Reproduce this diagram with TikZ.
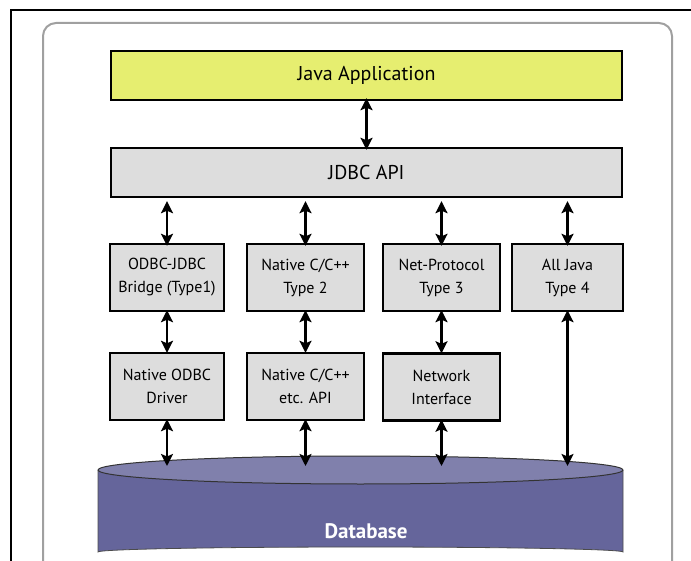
\documentclass[tikz,border=0pt]{standalone}
\usepackage{fontspec}
\setmainfont{PT Sans}
\usetikzlibrary{positioning}
\usetikzlibrary{arrows.meta}
\definecolor{appyellow}{RGB}{230,238,112}
\definecolor{boxgray}{RGB}{221,221,221}
\definecolor{dbbody}{RGB}{101,101,155}
\definecolor{dbtop}{RGB}{128,128,172}
\definecolor{framegray}{RGB}{160,160,160}
\tikzset{
  layer/.style={draw=black,line width=2.4pt,minimum width=511pt,minimum height=49pt,inner sep=0pt,font=\fontsize{20}{22}\selectfont},
  driver/.style={draw=black,line width=2.4pt,fill=boxgray,minimum height=67pt,inner sep=0pt,align=center,font=\fontsize{16}{23}\selectfont},
  link/.style={{Stealth[length=12pt,width=12pt,inset=2.5pt]}-{Stealth[length=12pt,width=12pt,inset=2.5pt]},line width=2.8pt}
}
\begin{document}
\begin{tikzpicture}[x=1pt,y=-1pt,line cap=butt,line join=miter]
\useasboundingbox (0,0) rectangle (691,561);
\draw[line width=2pt] (11,562) -- (11,10.5) -- (692,10.5);
\draw[framegray,line width=2pt,rounded corners=13pt] (43,562) -- (43,23) -- (672,23) -- (672,562);
\node[layer,fill=appyellow] (java) at (366.5,75.5) {Java Application};
\node[layer,fill=boxgray] (jdbc) at (366.5,172.5) {JDBC API};
\node[driver,minimum width=114pt] (type1) at (167,277.5) {ODBC-JDBC\\Bridge (Type1)};
\node[driver,minimum width=117pt] (type2) at (305.5,277.5) {Native C/C++\\Type 2};
\node[driver,minimum width=117pt] (type3) at (441.5,277.5) {Net-Protocol\\Type 3};
\node[driver,minimum width=111pt] (type4) at (567.5,277.5) {All Java\\Type 4};
\node[driver,minimum width=114pt] (odbc) at (167,386.5) {Native ODBC\\Driver};
\node[driver,minimum width=117pt] (capi) at (305.5,386.5) {Native C/C++\\etc. API};
\node[driver,minimum width=117pt] (netif) at (441.5,387) {Network\\Interface};
\fill[dbbody] (98,470) -- (98,552) arc[start angle=180,end angle=360,x radius=262.5,y radius=5] -- (623,470) -- cycle;
\draw[black!70,line width=0.8pt] (98,470) -- (98,552) arc[start angle=180,end angle=360,x radius=262.5,y radius=5] -- (623,470);
\draw[black!80,line width=1pt,fill=dbtop] (360.5,470) ellipse[x radius=262.5,y radius=14];
\coordinate (dbin) at (360.5,466);
\node[text=white,font=\fontsize{21}{24}\selectfont\bfseries] (db) at (366,531) {Database};
\draw[link] ([yshift=3pt]java.south) -- ([yshift=-3pt]jdbc.north);
\draw[link] (type1.north |- jdbc.south) ++(0,3) -- ([yshift=-3pt]type1.north);
\draw[link] (type2.north |- jdbc.south) ++(0,3) -- ([yshift=-3pt]type2.north);
\draw[link] (type3.north |- jdbc.south) ++(0,3) -- ([yshift=-3pt]type3.north);
\draw[link] (type4.north |- jdbc.south) ++(0,3) -- ([yshift=-3pt]type4.north);
\draw[link] ([yshift=2pt]type1.south) -- ([yshift=-1pt]odbc.north);
\draw[link] ([yshift=2pt]type2.south) -- ([yshift=-1pt]capi.north);
\draw[link] ([yshift=2pt]type3.south) -- ([yshift=-1pt]netif.north);
\draw[link] ([yshift=2pt]odbc.south) -- (odbc.south |- dbin);
\draw[link] ([yshift=2pt]capi.south) -- (capi.south |- dbin);
\draw[link] ([yshift=2pt]netif.south) -- (netif.south |- dbin);
\draw[link] ([yshift=2pt]type4.south) -- (type4.south |- dbin);
\end{tikzpicture}
\end{document}
